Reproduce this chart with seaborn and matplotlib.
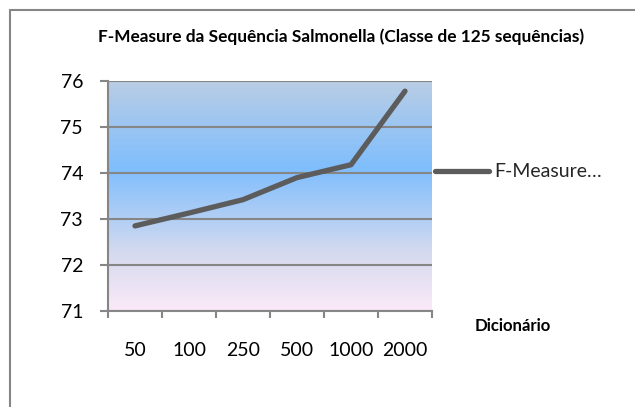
import numpy as np
import pandas as pd
import matplotlib
matplotlib.use("Agg")
import matplotlib.pyplot as plt
from matplotlib.colors import LinearSegmentedColormap
from matplotlib.lines import Line2D
import seaborn as sns

categories = ["50", "100", "250", "500", "1000", "2000"]
fmeasure = [72.85, 73.13, 73.42, 73.90, 74.18, 75.78]
yticks = [71, 72, 73, 74, 75, 76]
title = "F-Measure da Sequência Salmonella (Classe de 125 sequências)"
series_name = "F-Measure…"
xlabel = "Dicionário"

sns.set_theme(style="white")
plt.rcParams['font.family'] = ['Lato', 'DejaVu Sans']

df = pd.DataFrame({"Dicionário": categories, "F": fmeasure})

fig = plt.figure(figsize=(6.35, 4.07), dpi=100)
W, H = 635, 407
ax = fig.add_axes([108 / W, 1 - 311 / H, (432 - 108) / W, (311 - 81) / H])

# gradient background
cmap = LinearSegmentedColormap.from_list(
    "bg", [(0.0, "#fbeaf8"), (0.25, "#d5daef"), (0.62, "#7fbefd"), (1.0, "#b9cde5")])
grad = np.linspace(0, 1, 256).reshape(-1, 1)
ax.imshow(grad, cmap=cmap, origin="lower", aspect="auto",
          extent=(-0.5, 5.5, 71, 76), zorder=0)

sns.lineplot(data=df, x="Dicionário", y="F", ax=ax, color="#5c5c5c",
             linewidth=3.8, solid_capstyle="round", solid_joinstyle="round",
             sort=False, zorder=3, legend=False)

ax.set_xlim(-0.5, 5.5)
ax.set_ylim(71, 76)
ax.set_yticks(yticks)
ax.set_yticklabels([str(t) for t in yticks])
ax.yaxis.grid(True, color="#868686", linewidth=1.5, zorder=1)
ax.set_axisbelow(False)
for l in ax.get_ygridlines():
    l.set_zorder(1)

ax.set_xticks(range(len(categories)))
ax.set_xticklabels(categories)
ax.set_xticks(np.arange(-0.5, 6.0, 1.0), minor=True)
ax.tick_params(axis="x", which="major", length=0, pad=22, labelsize=14, colors="#000000")
ax.tick_params(axis="x", which="minor", length=5, width=1.5, color="#868686", bottom=True)
ax.tick_params(axis="y", which="major", length=6, width=1.5, color="#868686", left=True,
               labelsize=14, pad=12, labelcolor="#000000")
ax.set_xlabel("")
ax.set_ylabel("")

for s in ["top", "right"]:
    ax.spines[s].set_visible(False)
for s in ["left", "bottom"]:
    ax.spines[s].set_color("#868686")
    ax.spines[s].set_linewidth(1.5)
    ax.spines[s].set_zorder(4)

fig.text(341 / W, 1 - 37 / H, title, ha="center", va="center",
         fontsize=12.4, fontweight="bold", color="#000000")
fig.text(513 / W, 1 - 326 / H, xlabel, ha="center", va="center",
         fontsize=12.1, fontweight="bold", color="#000000")

handle = Line2D([], [], color="#5c5c5c", linewidth=3.8, solid_capstyle="round")
fig.legend([handle], [series_name], loc="center left",
           bbox_to_anchor=(435 / W, 1 - 172 / H), frameon=False,
           fontsize=14, handlelength=2.8, handletextpad=0.25, borderaxespad=0,
           borderpad=0)

# outer chart border (top and left visible)
fig.add_artist(Line2D([9.5 / W, 9.5 / W], [0, 1 - 9.5 / H], transform=fig.transFigure,
                      color="#868686", linewidth=1.5))
fig.add_artist(Line2D([9.5 / W, 1], [1 - 9.5 / H, 1 - 9.5 / H], transform=fig.transFigure,
                      color="#868686", linewidth=1.5))

fig.savefig("out.png", dpi=100)
